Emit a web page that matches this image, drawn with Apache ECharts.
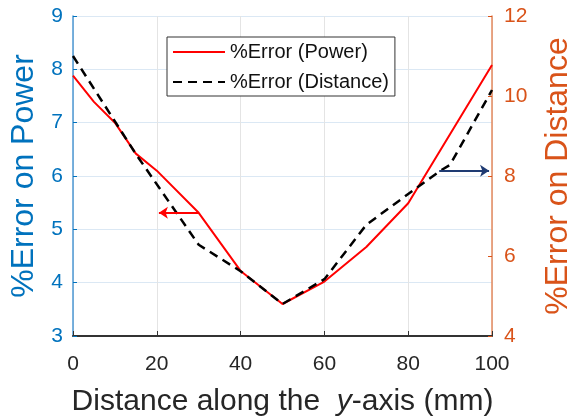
<!DOCTYPE html>
<html>
<head>
<meta charset="utf-8">
<script src="https://cdn.jsdelivr.net/npm/echarts@6/dist/echarts.min.js"></script>
<style>
  html, body { margin: 0; padding: 0; background: #fff; }
  #chart { width: 582px; height: 416px; }
</style>
</head>
<body>
<div id="chart"></div>
<script>
// x positions (mm) and values
const powerX = [0, 5, 10, 15, 20, 30, 40, 50, 60, 70, 80, 100];
const powerErr = [7.88, 7.39, 7.0, 6.42, 6.1, 5.31, 4.22, 3.6, 4.02, 4.67, 5.49, 8.08];
const distX = [0, 15, 30, 40, 50, 60, 70, 80, 87.5, 90, 100];
const distErr = [11.0, 8.55, 6.28, 5.62, 4.8, 5.42, 6.78, 7.55, 8.12, 8.28, 10.15];
const xTicks = [0, 20, 40, 60, 80, 100];

// arrows pointing to the axis each curve belongs to
const powerArrow = [[30, 5.31], [20.5, 5.31]];
const distArrow = [[87.4, 8.13], [99.3, 8.13]];

const FONT = '"Liberation Sans", Arial, sans-serif';
const BLUE = '#0072BD';
const ORANGE = '#D95319';

const pair = (xs, ys) => xs.map((x, i) => [x, ys[i]]);

const chart = echarts.init(document.getElementById('chart'));
chart.setOption({
  animation: false,
  textStyle: { fontFamily: FONT },
  grid: { left: 73, right: 90, top: 16, bottom: 80, containLabel: false, outerBoundsMode: 'none' },
  legend: {
    orient: 'vertical',
    left: 167,
    top: 37,
    padding: [5, 6, 4, 5],
    itemGap: 10,
    itemWidth: 52,
    itemHeight: 20,
    itemStyle: { opacity: 0 },
    borderColor: '#333',
    borderWidth: 1,
    backgroundColor: '#fff',
    textStyle: { fontSize: 20, color: '#111', fontFamily: FONT }
  },
  xAxis: {
    type: 'value',
    min: 0, max: 100, interval: 20,
    name: 'Distance along the  {i|y}-axis (mm)',
    nameLocation: 'middle',
    nameGap: 51,
    nameTextStyle: {
      fontSize: 30, color: '#262626', fontFamily: FONT,
      rich: { i: { fontStyle: 'italic', fontSize: 30, color: '#262626', fontFamily: FONT } }
    },
    axisLine: { show: true, onZero: false, lineStyle: { color: '#333', width: 2 } },
    axisTick: { show: true, inside: true, length: 5, lineStyle: { color: '#333' } },
    axisLabel: { fontSize: 21, color: '#262626', margin: 18, customValues: xTicks },
    splitLine: { show: true, lineStyle: { color: '#e4e4e4', width: 1 } }
  },
  yAxis: [
    {
      type: 'value',
      min: 3, max: 9, interval: 1,
      position: 'left',
      name: '%Error on Power',
      nameLocation: 'middle',
      nameRotate: 90,
      nameGap: 27,
      nameTextStyle: { fontSize: 32, color: BLUE, fontFamily: FONT },
      axisLine: { show: true, onZero: false, lineStyle: { color: '#4d98d4', width: 1.5 } },
      axisTick: { show: true, inside: true, length: 4, lineStyle: { color: BLUE } },
      axisLabel: { fontSize: 21, color: BLUE, margin: 10 },
      splitLine: { show: true, lineStyle: { color: '#dbe8f4', width: 1 } }
    },
    {
      type: 'value',
      min: 4, max: 12, interval: 2,
      position: 'right',
      name: '%Error on Distance',
      nameLocation: 'middle',
      nameRotate: 90,
      nameGap: 50,
      nameTextStyle: { fontSize: 32, color: ORANGE, fontFamily: FONT },
      axisLine: { show: true, onZero: false, lineStyle: { color: '#e58a5e', width: 1.5 } },
      axisTick: { show: true, inside: true, length: 4, lineStyle: { color: ORANGE } },
      axisLabel: { fontSize: 21, color: ORANGE, margin: 12 },
      splitLine: { show: false }
    }
  ],
  series: [
    {
      name: '%Error (Power)',
      type: 'line',
      yAxisIndex: 0,
      data: pair(powerX, powerErr),
      showSymbol: false,
      symbol: 'none',
      z: 3,
      lineStyle: { color: '#ff0000', width: 2 },
      itemStyle: { color: '#ff0000' },
      markLine: {
        silent: true,
        symbol: ['none', 'arrow'],
        symbolSize: 9,
        label: { show: false },
        lineStyle: { color: '#ff0000', width: 2, type: 'solid' },
        data: [[{ coord: powerArrow[0] }, { coord: powerArrow[1] }]]
      }
    },
    {
      name: '%Error (Distance)',
      type: 'line',
      yAxisIndex: 1,
      data: pair(distX, distErr),
      showSymbol: false,
      symbol: 'none',
      z: 4,
      lineStyle: { color: '#000', width: 2.5, type: [9, 6] },
      itemStyle: { color: '#000' },
      markLine: {
        silent: true,
        symbol: ['none', 'arrow'],
        symbolSize: 9,
        label: { show: false },
        lineStyle: { color: '#1f3b73', width: 2, type: 'solid' },
        data: [[{ coord: distArrow[0] }, { coord: distArrow[1] }]]
      }
    }
  ]
});
</script>
</body>
</html>
